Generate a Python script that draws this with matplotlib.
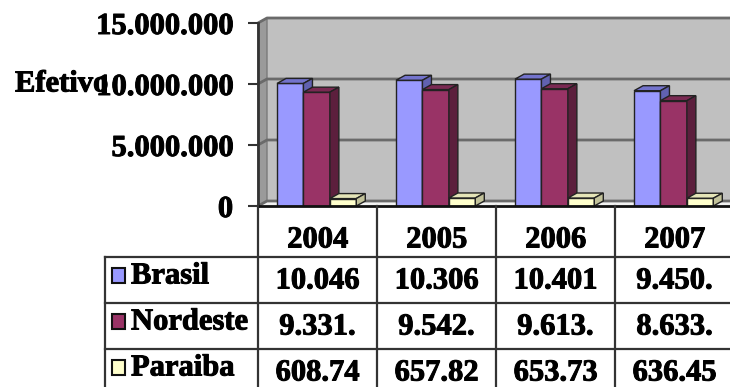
import matplotlib
matplotlib.use("Agg")
import matplotlib.pyplot as plt
import matplotlib.patheffects as pe
from matplotlib.patches import Polygon, Rectangle
import numpy as np

# data (table cells show the first 6 characters)
years = ["2004", "2005", "2006", "2007"]
series_names = ["Brasil", "Nordeste", "Paraiba"]
brasil = [10046000, 10306000, 10401000, 9450000]
nordeste = [9331000, 9542000, 9613000, 8633000]
paraiba = [608740, 657820, 653730, 636450]
y_ticks = [0, 5000000, 10000000, 15000000]
y_label = "Efetivo"

front_colors = ["#9999FF", "#993366", "#FFFFCC"]
top_colors = ["#7373CC", "#7A2952", "#E5E5B8"]
side_colors = ["#6161B0", "#5C1F3D", "#C2C29A"]

plt.rcParams["font.family"] = ["Liberation Serif", "DejaVu Serif"]
plt.rcParams["font.weight"] = "bold"
FS = 22
heavy = [pe.withStroke(linewidth=0.7, foreground="black")]


def dotted(v):
    return f"{v:,.0f}".replace(",", ".")


W, H = 730, 387
fig = plt.figure(figsize=(W / 100, H / 100), dpi=100)

# pixel geometry of the plot area
left_px, zero_px, top_px = 258, 206, 23
cat_px = 119
ymax = y_ticks[-1]
ax = fig.add_axes([left_px / W, (H - zero_px) / H, 4 * cat_px / W, (zero_px - top_px) / H])
ax.set_xlim(0, len(years))
ax.set_ylim(0, ymax)

dx = 9 / cat_px
dy = 5 * ymax / (zero_px - top_px)
n = len(years)

# walls and floor
ax.add_patch(Polygon([(dx, dy), (n + dx, dy), (n + dx, ymax + dy), (dx, ymax + dy)],
                     fc="#C0C0C0", ec="none", clip_on=False, zorder=0))
ax.add_patch(Polygon([(0, 0), (dx, dy), (dx, ymax + dy), (0, ymax)],
                     fc="#9A9A9A", ec="#7A7A7A", lw=1, clip_on=False, zorder=0.5))
ax.add_patch(Polygon([(0, 0), (n, 0), (n + dx, dy), (dx, dy)],
                     fc="#F2F2F2", ec="none", clip_on=False, zorder=0.5))
for v in y_ticks:
    ax.plot([0, dx, n + dx], [v, v + dy, v + dy], color="#6A6A6A", lw=2,
            clip_on=False, zorder=1, solid_capstyle="butt")

# 3d bars
bar_w = 0.222
bar_off = 0.16
for j, vals in enumerate([brasil, nordeste, paraiba]):
    x = np.arange(n) + bar_off + j * bar_w
    z = 3 + j
    ax.bar(x, vals, bar_w, align="edge", color=front_colors[j],
           edgecolor="#222222", lw=1, zorder=z)
    for xi, v in zip(x, vals):
        ax.add_patch(Polygon([(xi, v), (xi + bar_w, v), (xi + bar_w + dx, v + dy), (xi + dx, v + dy)],
                             fc=top_colors[j], ec="#222222", lw=1, zorder=z, clip_on=False))
        ax.add_patch(Polygon([(xi + bar_w, 0), (xi + bar_w + dx, dy), (xi + bar_w + dx, v + dy), (xi + bar_w, v)],
                             fc=side_colors[j], ec="#222222", lw=1, zorder=z, clip_on=False))

for s in ["top", "right"]:
    ax.spines[s].set_visible(False)
ax.spines["left"].set_color("#333333")
ax.spines["left"].set_linewidth(2)
ax.spines["bottom"].set_color("#111111")
ax.spines["bottom"].set_linewidth(2)
ax.spines["left"].set_zorder(6)
ax.spines["bottom"].set_zorder(6)
ax.set_xticks([])
ax.set_yticks(y_ticks)
ax.set_yticklabels([dotted(v) for v in y_ticks])
ax.tick_params(axis="y", direction="out", length=7, width=1.5, color="#333333",
               pad=11, labelsize=FS)
for lab in ax.get_yticklabels():
    lab.set_path_effects(heavy)

# data table drawn in pixel space under the plot
tab = fig.add_axes([0, 0, 1, 1], zorder=5)
tab.set_xlim(0, W)
tab.set_ylim(H, 0)
tab.axis("off")

row_lines = [zero_px, 257, 303, 349, 395]
col_x = [left_px + cat_px * i for i in range(n + 1)]
label_left = 105
lc = "#333333"
for cx in col_x[:-1]:
    tab.plot([cx, cx], [zero_px, row_lines[-1]], color=lc, lw=1.6)
tab.plot([label_left, label_left], [row_lines[1], row_lines[-1]], color=lc, lw=1.6)
for ry in row_lines[1:4]:
    tab.plot([label_left, W + 5], [ry, ry], color=lc, lw=1.6)

for i, yr in enumerate(years):
    tab.text(col_x[i] + cat_px / 2, 240, yr, ha="center", va="center", fontsize=FS,
             path_effects=heavy)

for r, (name, vals) in enumerate(zip(series_names, [brasil, nordeste, paraiba])):
    cy = (row_lines[r + 1] + row_lines[r + 2]) / 2
    tab.add_patch(Rectangle((112, cy - 12), 13, 15, fc=front_colors[r], ec="#111111", lw=1.5))
    tab.text(131, cy - 4, name, ha="left", va="center", fontsize=FS, path_effects=heavy)
    for i, v in enumerate(vals):
        tab.text(col_x[i] + cat_px / 2, cy + 1, dotted(v)[:6], ha="center", va="center",
                 fontsize=FS, path_effects=heavy)

tab.text(15, 84, y_label, ha="left", va="center", fontsize=FS, path_effects=heavy)

fig.savefig("out.png", dpi=100)
